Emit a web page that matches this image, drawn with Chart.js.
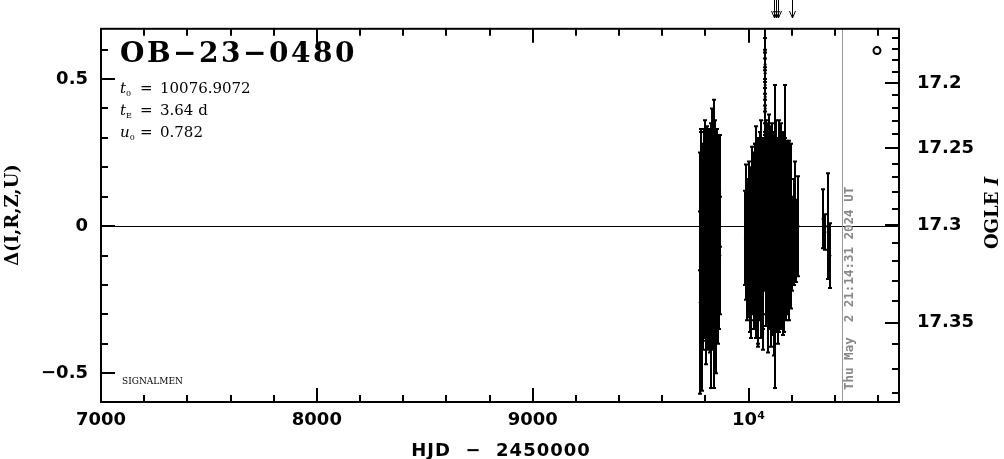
<!DOCTYPE html>
<html>
<head>
<meta charset="utf-8">
<script src="https://cdn.jsdelivr.net/npm/chart.js@4.4.1/dist/chart.umd.min.js"></script>
<style>
html, body { margin: 0; padding: 0; background: #fff; }
#wrap { width: 1004px; height: 459px; }
</style>
</head>
<body>
<div id="wrap"><canvas id="lc" width="1004" height="459"></canvas></div>
<script>
// OB-23-0480 light curve, Delta flux vs HJD-2450000

// 2022 season
let s22Hjd = [9776, 9778, 9779, 9781, 9783, 9784, 9786, 9788, 9789, 9791, 9793, 9795, 9796, 9798, 9800, 9801, 9803, 9805, 9806, 9808,
  9810, 9812, 9813, 9815, 9817, 9819, 9820, 9822, 9824, 9826, 9828, 9830, 9832, 9834, 9836, 9838, 9840, 9842, 9844, 9846,
  9848, 9850, 9852, 9854, 9856, 9858, 9861, 9864, 9867,
  9777, 9780, 9782, 9785, 9787, 9790, 9792, 9794, 9797, 9799, 9802, 9804, 9807, 9809, 9811, 9814, 9816, 9818, 9821, 9823,
  9825, 9827, 9829, 9831, 9833, 9835, 9837, 9839, 9841, 9843, 9845, 9847, 9849, 9851, 9853, 9855, 9857, 9859, 9860, 9862,
  9863, 9865, 9866];
let s22Delta = [-0.26, -0.05, 0.08, -0.18, 0.02, -0.30, 0.10, -0.08, 0.05, -0.15, 0.12, -0.03, 0.16, -0.12, 0.04, -0.22, 0.08, -0.05, 0.10, -0.10,
  0.00, 0.14, -0.20, 0.06, -0.02, 0.12, -0.14, 0.03, -0.06, 0.09, -0.25, 0.02, 0.18, -0.04, 0.07, -0.16, 0.20, -0.28, 0.05, -0.09,
  0.11, -0.20, 0.00, 0.13, -0.12, 0.06, -0.05, 0.08, -0.10,
  0.05, -0.10, 0.12, -0.02, -0.22, 0.07, -0.06, 0.15, -0.18, 0.01, 0.11, -0.13, -0.01, 0.15, -0.17, 0.04, -0.09, 0.10, -0.21, 0.08,
  -0.03, 0.15, -0.11, 0.05, -0.19, 0.12, -0.01, 0.09, -0.13, 0.16, -0.05, 0.02, -0.16, 0.10, -0.08, 0.04, -0.18, 0.11, -0.02, 0.05,
  -0.14, 0.02, 0.12];
let s22Err = [0.31, 0.22, 0.25, 0.27, 0.20, 0.26, 0.18, 0.22, 0.20, 0.24, 0.20, 0.18, 0.20, 0.21, 0.19, 0.25, 0.20, 0.20, 0.17, 0.23,
  0.20, 0.18, 0.22, 0.20, 0.19, 0.21, 0.20, 0.22, 0.20, 0.19, 0.30, 0.20, 0.22, 0.20, 0.18, 0.24, 0.23, 0.27, 0.20, 0.21,
  0.19, 0.30, 0.20, 0.20, 0.22, 0.20, 0.21, 0.18, 0.20,
  0.20, 0.22, 0.20, 0.21, 0.20, 0.20, 0.22, 0.18, 0.20, 0.22, 0.20, 0.21, 0.20, 0.19, 0.22, 0.20, 0.20, 0.21, 0.22, 0.20,
  0.22, 0.20, 0.21, 0.20, 0.23, 0.20, 0.21, 0.20, 0.22, 0.20, 0.21, 0.20, 0.22, 0.20, 0.21, 0.20, 0.22, 0.20, 0.20, 0.19,
  0.21, 0.20, 0.19];

// 2023 season
let s23Hjd = [9985, 9989, 9994, 9999, 10004, 10009, 10013, 10017, 10021, 10025,
  10028, 10031, 10034, 10037, 10040, 10043, 10046, 10049, 10052, 10055,
  10058, 10061, 10064, 10067, 10070, 10073, 10080, 10083, 10086, 10089,
  10092, 10095, 10098, 10101, 10104, 10107, 10110, 10113, 10116, 10119,
  10122, 10124, 10127, 10130, 10133, 10136, 10139, 10142, 10145, 10148,
  10151, 10154, 10157, 10160, 10163, 10166, 10170, 10173, 10176, 10180,
  10184, 10188, 10192, 10197, 10203, 10209, 10216, 10222, 10230,
  9987, 9992, 9997, 10002, 10007, 10011, 10015, 10019, 10023, 10027,
  10030, 10032, 10035, 10038, 10041, 10044, 10047, 10050, 10053, 10056,
  10059, 10062, 10065, 10068, 10071, 10074, 10079, 10081, 10084, 10087,
  10090, 10093, 10096, 10099, 10102, 10105, 10108, 10111, 10114, 10117,
  10120, 10123, 10126, 10128, 10131, 10134, 10137, 10140, 10143, 10146,
  10149, 10152, 10155, 10158, 10161, 10164, 10167, 10171, 10175, 10178,
  10182, 10186];
let s23Delta = [-0.04, -0.10, 0.02, -0.14, -0.06, 0.04, -0.18, -0.02, 0.08, -0.12,
  0.00, 0.12, -0.20, 0.05, -0.08, 0.15, -0.15, 0.02, 0.18, -0.05,
  0.10, -0.12, 0.06, -0.20, 0.14, -0.03, 0.20, -0.10, 0.08, -0.18,
  0.04, 0.22, -0.06, 0.10, -0.14, 0.03, 0.17, -0.09, 0.06, -0.22,
  0.28, -0.30, 0.00, 0.12, -0.10, 0.05, 0.20, -0.16, 0.08, -0.04,
  0.15, -0.12, 0.02, 0.10, -0.20, 0.06, 0.27, -0.05, 0.12, -0.10,
  0.04, -0.14, 0.08, 0.00, -0.06, -0.02, 0.07, -0.05, 0.00,
  0.06, -0.16, 0.00, 0.05, -0.20, -0.05, 0.10, -0.10, 0.02, -0.15,
  0.08, -0.06, 0.14, -0.12, 0.02, -0.19, 0.10, -0.08, 0.05, -0.16,
  0.16, -0.02, 0.10, -0.11, 0.03, 0.12, -0.12, 0.06, 0.15, -0.06,
  0.10, -0.13, 0.01, 0.14, -0.17, 0.09, -0.05, 0.04, -0.15, 0.12,
  -0.04, 0.08, -0.14, 0.16, -0.07, 0.03, -0.18, 0.09, 0.00, 0.14,
  -0.13, 0.05, -0.07, 0.12, -0.15, 0.02, -0.08, 0.10, -0.12, 0.05,
  -0.03, 0.09];
let s23Err = [0.16, 0.15, 0.14, 0.17, 0.15, 0.16, 0.20, 0.15, 0.17, 0.20,
  0.20, 0.16, 0.18, 0.20, 0.22, 0.15, 0.25, 0.18, 0.14, 0.20,
  0.18, 0.17, 0.20, 0.22, 0.16, 0.19, 0.16, 0.20, 0.20, 0.25,
  0.18, 0.16, 0.21, 0.19, 0.20, 0.22, 0.18, 0.20, 0.20, 0.22,
  0.20, 0.25, 0.20, 0.18, 0.20, 0.22, 0.16, 0.20, 0.20, 0.18,
  0.20, 0.20, 0.19, 0.20, 0.16, 0.20, 0.21, 0.20, 0.17, 0.20,
  0.20, 0.18, 0.20, 0.28, 0.16, 0.18, 0.15, 0.14, 0.17,
  0.15, 0.16, 0.15, 0.17, 0.16, 0.20, 0.17, 0.20, 0.22, 0.20,
  0.20, 0.22, 0.20, 0.24, 0.20, 0.22, 0.20, 0.24, 0.20, 0.22,
  0.20, 0.22, 0.20, 0.24, 0.20, 0.20, 0.22, 0.20, 0.20, 0.22,
  0.20, 0.22, 0.20, 0.20, 0.24, 0.20, 0.22, 0.20, 0.22, 0.20,
  0.22, 0.20, 0.22, 0.20, 0.22, 0.20, 0.22, 0.20, 0.22, 0.20,
  0.22, 0.20, 0.22, 0.20, 0.22, 0.20, 0.22, 0.20, 0.20, 0.20,
  0.22, 0.20];

// night of the peak
let peakHjd = [10076.5, 10076.6, 10076.7, 10076.8, 10076.9, 10077.0, 10077.1, 10077.2];
let peakDelta = [0.64, 0.59, 0.55, 0.52, 0.48, 0.44, 0.40, 0.36];
let peakErr = [0.05, 0.05, 0.05, 0.05, 0.05, 0.05, 0.05, 0.05];

// 2024 season
let s24Hjd = [10345, 10354, 10366, 10377];
let s24Delta = [0.025, -0.02, 0.00, -0.10];
let s24Err = [0.10, 0.06, 0.18, 0.11];

// axes
let xMajor = [7000, 8000, 9000, 10000];
let yMajor = [-0.5, 0, 0.5];
let magTicks = [17.16, 17.17, 17.18, 17.19, 17.2, 17.21, 17.22, 17.23, 17.24, 17.25, 17.26, 17.27,
  17.28, 17.29, 17.3, 17.31, 17.32, 17.33, 17.34, 17.35, 17.36, 17.37, 17.38];
let magTickDelta = [0.641, 0.604, 0.564, 0.525, 0.486, 0.447, 0.402, 0.357, 0.312, 0.264, 0.211, 0.166,
  0.116, 0.059, 0.003, -0.059, -0.120, -0.188, -0.255, -0.328, -0.401, -0.485, -0.569];
let magMajor = [17.2, 17.25, 17.3, 17.35];

let arrowHjd = [10118, 10127, 10136, 10199];
let nowHjd = 10432;
let nowText = 'Thu May  2 21:14:31 2024 UT';

function pts(xs, ys) {
  return xs.map((x, i) => ({ x: x, y: ys[i] }));
}

const decor = {
  id: 'decor',
  beforeDatasetsDraw(chart) {
    const ctx = chart.ctx, xs = chart.scales.x, ys = chart.scales.y, a = chart.chartArea;
    ctx.save();
    ctx.beginPath();
    ctx.rect(a.left, a.top, a.right - a.left, a.bottom - a.top);
    ctx.clip();

    // zero line
    ctx.strokeStyle = '#000';
    ctx.lineWidth = 1;
    let y0 = Math.round(ys.getPixelForValue(0)) + 0.5;
    ctx.beginPath();
    ctx.moveTo(a.left, y0);
    ctx.lineTo(a.right, y0);
    ctx.stroke();

    // time of plotting
    let xn = Math.round(xs.getPixelForValue(nowHjd)) + 0.5;
    ctx.strokeStyle = '#999';
    ctx.beginPath();
    ctx.moveTo(xn, a.top);
    ctx.lineTo(xn, a.bottom);
    ctx.stroke();

    // error bars
    ctx.strokeStyle = '#000';
    ctx.lineWidth = 2;
    chart.data.datasets.forEach(ds => {
      if (!ds.errors) return;
      ds.data.forEach((p, i) => {
        let px = Math.round(xs.getPixelForValue(p.x));
        let top = ys.getPixelForValue(p.y + ds.errors[i]);
        let bot = ys.getPixelForValue(p.y - ds.errors[i]);
        ctx.beginPath();
        ctx.moveTo(px, top);
        ctx.lineTo(px, bot);
        ctx.moveTo(px - 2, top);
        ctx.lineTo(px + 2, top);
        ctx.moveTo(px - 2, bot);
        ctx.lineTo(px + 2, bot);
        ctx.stroke();
      });
    });
    ctx.restore();
  },
  afterDraw(chart) {
    const ctx = chart.ctx, xs = chart.scales.x, ys = chart.scales.y, a = chart.chartArea;
    ctx.save();
    ctx.strokeStyle = '#000';
    ctx.fillStyle = '#000';
    ctx.lineWidth = 2;
    ctx.strokeRect(a.left, a.top, a.right - a.left, a.bottom - a.top);

    ctx.beginPath();
    // bottom and top ticks, every 200 d
    for (let v = 7000; v < 10700; v += 200) {
      let px = Math.round(xs.getPixelForValue(v));
      let len = v % 1000 === 0 ? 14 : 7;
      ctx.moveTo(px, a.bottom); ctx.lineTo(px, a.bottom - len);
      ctx.moveTo(px, a.top); ctx.lineTo(px, a.top + len);
    }
    // left ticks, every 0.1
    for (let k = -5; k <= 6; k++) {
      let py = Math.round(ys.getPixelForValue(k / 10));
      let len = k % 5 === 0 ? 14 : 7;
      ctx.moveTo(a.left, py); ctx.lineTo(a.left + len, py);
    }
    // right ticks, OGLE I
    magTicks.forEach((m, i) => {
      let py = Math.round(ys.getPixelForValue(magTickDelta[i]));
      let len = magMajor.includes(m) ? 14 : 7;
      ctx.moveTo(a.right, py); ctx.lineTo(a.right - len, py);
    });
    ctx.stroke();

    // alert arrows above the frame
    ctx.lineWidth = 1;
    ctx.beginPath();
    arrowHjd.forEach(t => {
      let px = Math.round(xs.getPixelForValue(t)) + 0.5;
      ctx.moveTo(px, 0); ctx.lineTo(px, 18);
      ctx.moveTo(px - 3, 11); ctx.lineTo(px, 18); ctx.lineTo(px + 3, 11);
    });
    ctx.stroke();

    // name and parameters
    ctx.textAlign = 'left';
    ctx.textBaseline = 'alphabetic';
    ctx.font = 'bold 28px "DejaVu Serif"';
    ctx.letterSpacing = '2.5px';
    ctx.fillText('OB\u221223\u22120480', 120, 62);
    ctx.letterSpacing = '0px';

    const param = (y, sym, sub, val) => {
      ctx.font = 'italic 15px "DejaVu Serif"';
      ctx.fillText(sym, 120, y);
      let x = 120 + ctx.measureText(sym).width;
      ctx.font = '8px "DejaVu Serif"';
      ctx.fillText(sub, x, y + 3);
      ctx.font = '15px "DejaVu Serif"';
      ctx.fillText('=', 140, y);
      ctx.fillText(val, 160, y);
    };
    param(93, 't', '0', '10076.9072');
    param(115, 't', 'E', '3.64 d');
    param(137, 'u', '0', '0.782');

    ctx.font = '9px "DejaVu Serif"';
    ctx.fillText('SIGNALMEN', 122, 384);

    // axis titles
    ctx.font = 'bold 18px "DejaVu Sans"';
    ctx.textAlign = 'center';
    ctx.letterSpacing = '1px';
    ctx.fillText('HJD  \u2212  2450000', 501, 456);
    ctx.letterSpacing = '0px';

    ctx.save();
    ctx.translate(13, 215);
    ctx.rotate(-Math.PI / 2);
    ctx.textBaseline = 'middle';
    ctx.font = 'bold 18px "DejaVu Serif"';
    ctx.fillText('\u0394(I,R,Z,U)', 0, 0);
    ctx.restore();

    ctx.save();
    ctx.translate(993, 213);
    ctx.rotate(-Math.PI / 2);
    ctx.textBaseline = 'middle';
    ctx.textAlign = 'left';
    ctx.font = 'bold 18px "DejaVu Serif"';
    let w1 = ctx.measureText('OGLE ').width;
    ctx.font = 'bold italic 18px "DejaVu Serif"';
    let w2 = ctx.measureText('I').width;
    let x0 = -(w1 + w2) / 2;
    ctx.font = 'bold 18px "DejaVu Serif"';
    ctx.fillText('OGLE ', x0, 0);
    ctx.font = 'bold italic 18px "DejaVu Serif"';
    ctx.fillText('I', x0 + w1, 0);
    ctx.restore();

    // plotting date
    ctx.save();
    let xn = xs.getPixelForValue(nowHjd) + 8;
    ctx.translate(xn, 390);
    ctx.rotate(-Math.PI / 2);
    ctx.textAlign = 'left';
    ctx.textBaseline = 'middle';
    ctx.fillStyle = '#888';
    ctx.font = 'bold 12.5px "DejaVu Sans Mono"';
    ctx.fillText(nowText, 0, 0);
    ctx.restore();

    ctx.restore();
  }
};

const tickFont = { family: 'DejaVu Sans', weight: 'bold', size: 18 };

new Chart(document.getElementById('lc'), {
  type: 'scatter',
  data: {
    datasets: [
      { data: pts(s22Hjd, s22Delta), errors: s22Err },
      { data: pts(s23Hjd, s23Delta), errors: s23Err },
      { data: pts(peakHjd, peakDelta), errors: peakErr },
      { data: pts(s24Hjd, s24Delta), errors: s24Err },
      { data: [{ x: 10595, y: 0.597 }], pointRadius: 3.5, borderWidth: 2, borderColor: '#000', backgroundColor: '#fff' }
    ]
  },
  options: {
    responsive: false,
    animation: false,
    layout: { padding: { top: 25, left: 0, right: 0, bottom: 0 } },
    elements: { point: { radius: 1.5, backgroundColor: '#000', borderWidth: 0 } },
    plugins: { legend: { display: false }, tooltip: { enabled: false } },
    scales: {
      x: {
        type: 'linear', min: 7000, max: 10697,
        grid: { display: false, drawTicks: false }, border: { display: false },
        afterBuildTicks: s => { s.ticks = xMajor.map(v => ({ value: v })); },
        afterFit: s => { s.height = 57; },
        ticks: {
          font: tickFont, color: '#000', padding: 8, maxRotation: 0,
          callback: v => v === 10000 ? '10\u2074' : String(v)
        }
      },
      y: {
        min: -0.598, max: 0.671,
        grid: { display: false, drawTicks: false }, border: { display: false },
        afterBuildTicks: s => { s.ticks = yMajor.map(v => ({ value: v })); },
        afterFit: s => { s.width = 101; },
        ticks: {
          font: tickFont, color: '#000', padding: 13,
          callback: v => v < 0 ? '\u2212' + Math.abs(v) : String(v)
        }
      },
      y2: {
        position: 'right', min: -0.598, max: 0.671,
        grid: { display: false, drawTicks: false }, border: { display: false },
        afterBuildTicks: s => {
          s.ticks = magMajor.map(m => ({ value: magTickDelta[magTicks.indexOf(m)] }));
        },
        afterFit: s => { s.width = 105; },
        ticks: {
          font: tickFont, color: '#000', padding: 18,
          callback: (v, i) => String(magMajor[i])
        }
      }
    }
  },
  plugins: [decor]
});
</script>
</body>
</html>
